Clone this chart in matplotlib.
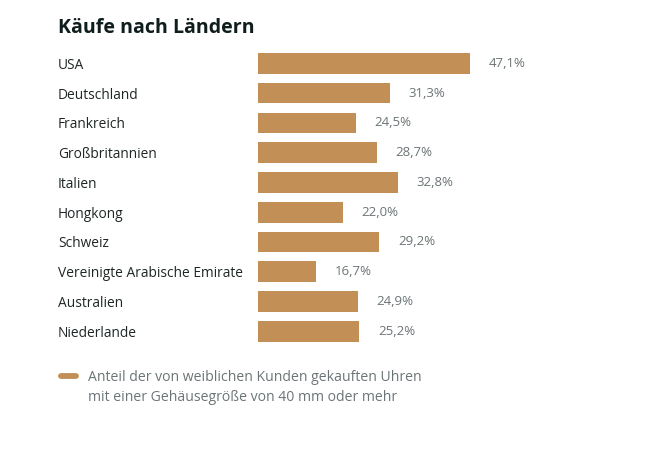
import matplotlib
matplotlib.use("Agg")
import matplotlib.pyplot as plt
from matplotlib.lines import Line2D

plt.rcParams["font.family"] = ["Open Sans", "Noto Sans", "DejaVu Sans"]

countries = ["USA", "Deutschland", "Frankreich", "Großbritannien", "Italien",
             "Hongkong", "Schweiz", "Vereinigte Arabische Emirate", "Australien",
             "Niederlande"]
shares = [47.1, 31.3, 24.5, 28.7, 32.8, 22.0, 29.2, 16.7, 24.9, 25.2]

title = "Käufe nach Ländern"
legend_text = "Anteil der von weiblichen Kunden gekauften Uhren\nmit einer Gehäusegröße von 40 mm oder mehr"

bar_color = "#c28f57"
label_color = "#1f2626"
value_color = "#6b7476"

W, H = 661, 451
fig = plt.figure(figsize=(W / 100, H / 100), dpi=100)

# axes placed in pixel terms: bars start at x=258
ax_left, ax_right = 258, 620
ax_top, ax_bottom = 48.4, 346.2
ax = fig.add_axes([ax_left / W, 1 - ax_bottom / H,
                   (ax_right - ax_left) / W, (ax_bottom - ax_top) / H])

px_per_pct = 5.066
x0 = 5.25
ax.set_xlim(x0, x0 + (ax_right - ax_left) / px_per_pct)
ax.set_ylim(len(countries) - 0.5, -0.5)

ypos = list(range(len(countries)))
ax.barh(ypos, shares, left=0, height=0.695, color=bar_color)

for y, v in zip(ypos, shares):
    ax.annotate(f"{v:.1f}".replace(".", ",") + "%", xy=(v, y),
                xytext=(13.5, 0), textcoords="offset points",
                va="center", ha="left", fontsize=9.5, color=value_color)

ax.set_yticks(ypos)
ax.set_yticklabels(countries, fontsize=9.9, color=label_color, ha="left")
ax.tick_params(axis="y", length=0, pad=(ax_left - 58) * 0.72)
ax.set_xticks([])
for s in ax.spines.values():
    s.set_visible(False)

fig.text(58 / W, 1 - 33.3 / H, title, fontsize=14.1, fontweight="bold",
         color="#0f1d1d", ha="left", va="baseline")

fig.add_artist(Line2D([61 / W, 76 / W], [1 - 375.5 / H, 1 - 375.5 / H],
                      transform=fig.transFigure, color=bar_color,
                      linewidth=4.2, solid_capstyle="round"))
fig.text(88 / W, 1 - 387.5 / H, legend_text, fontsize=10.1, color=value_color,
         ha="left", va="center", linespacing=1.5)

fig.savefig("out.png", dpi=100, facecolor="white")
